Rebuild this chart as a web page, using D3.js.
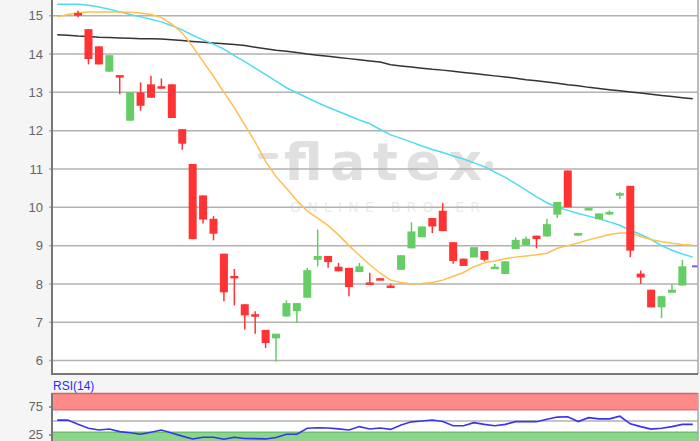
<!DOCTYPE html>
<meta charset="utf-8">
<script src="https://d3js.org/d3.v7.min.js"></script>
<style>
    body { margin: 0; background: #f5f5f5; }
    svg { display: block; font-family: "Liberation Sans", Arial, sans-serif; }
</style>
<body>
<div id="chart"></div>
<script>
    // daily candles (index 0 = first visible day)
    var opens  = [15.07, 14.65, 14.20, 13.54, 13.45, 12.26, 13.00, 13.21, 13.16, 13.21,
                  12.04, 11.13, 10.31, 9.70, 8.79, 8.21, 7.47, 7.21, 6.80, 6.58,
                  7.15, 7.29, 7.64, 8.63, 8.73, 8.45, 8.42, 8.31, 8.04, 8.15,
                  7.96, 8.37, 8.93, 9.22, 9.72, 9.91, 9.09, 8.66, 8.69, 8.86,
                  8.40, 8.26, 8.91, 9.01, 9.26, 9.24, 9.81, 10.96, 9.26, 9.96,
                  9.69, 9.81, 10.33, 10.56, 8.27, 7.85, 7.39, 7.77, 7.96]
    var closes = [15.00, 13.87, 13.73, 13.97, 13.40, 13.00, 12.65, 12.86, 13.10, 12.33,
                  11.66, 9.17, 9.68, 9.31, 7.78, 8.18, 7.18, 7.19, 6.46, 6.70,
                  7.50, 7.50, 8.36, 8.73, 8.57, 8.33, 7.92, 8.46, 8.02, 8.10,
                  7.90, 8.75, 9.37, 9.50, 9.50, 9.38, 8.60, 8.47, 8.96, 8.63,
                  8.45, 8.59, 9.15, 9.18, 9.17, 9.56, 10.14, 10.00, 9.33, 9.98,
                  9.84, 9.88, 10.37, 8.87, 8.17, 7.39, 7.68, 7.85, 8.46]
    var highs  = [15.13, 14.65, 14.20, 13.97, 13.45, 13.00, 13.26, 13.43, 13.36, 13.21,
                  12.04, 11.13, 10.31, 9.77, 8.79, 8.39, 7.47, 7.29, 6.80, 6.70,
                  7.57, 7.50, 8.42, 9.42, 8.73, 8.55, 8.42, 8.55, 8.29, 8.15,
                  8.00, 8.75, 9.61, 9.50, 9.72, 10.11, 9.09, 8.66, 8.96, 8.86,
                  8.52, 8.59, 9.21, 9.24, 9.26, 9.70, 10.14, 10.96, 9.33, 9.98,
                  9.84, 9.92, 10.39, 10.56, 8.35, 7.85, 7.68, 8.00, 8.63]
    var lows   = [14.96, 13.73, 13.73, 13.54, 12.95, 12.26, 12.52, 12.86, 13.10, 12.33,
                  11.50, 9.17, 9.58, 9.14, 7.55, 7.44, 6.81, 6.70, 6.33, 5.97,
                  7.15, 6.98, 7.64, 8.46, 8.42, 8.33, 7.68, 8.31, 8.02, 8.10,
                  7.90, 8.37, 8.93, 9.22, 9.33, 9.38, 8.53, 8.47, 8.69, 8.59,
                  8.40, 8.26, 8.91, 9.01, 8.93, 9.24, 9.72, 10.00, 9.26, 9.96,
                  9.69, 9.81, 10.22, 8.70, 8.00, 7.39, 7.11, 7.77, 7.96]

    // indicator series start two days before the first candle
    var seriesStart = -2
    var maSlow = [14.50, 14.49, 14.47, 14.46, 14.44, 14.43, 14.42, 14.41, 14.40, 14.40,
                  14.39, 14.37, 14.35, 14.33, 14.31, 14.29, 14.27, 14.25, 14.22, 14.18,
                  14.14, 14.10, 14.07, 14.04, 14.00, 13.97, 13.94, 13.91, 13.88, 13.85,
                  13.82, 13.79, 13.72, 13.69, 13.66, 13.63, 13.60, 13.58, 13.55, 13.52,
                  13.49, 13.46, 13.43, 13.40, 13.37, 13.33, 13.30, 13.27, 13.24, 13.20,
                  13.17, 13.13, 13.10, 13.07, 13.04, 13.01, 12.98, 12.95, 12.92, 12.89,
                  12.86, 12.83]
    var maMid  = [15.30, 15.30, 15.30, 15.27, 15.23, 15.17, 15.10, 15.03, 14.97, 14.91,
                  14.84, 14.74, 14.63, 14.49, 14.37, 14.26, 14.13, 13.96, 13.80, 13.63,
                  13.46, 13.29, 13.12, 12.99, 12.86, 12.73, 12.61, 12.50, 12.39, 12.28,
                  12.18, 12.03, 11.89, 11.80, 11.70, 11.60, 11.51, 11.43, 11.34, 11.26,
                  11.16, 11.06, 10.92, 10.78, 10.62, 10.45, 10.27, 10.12, 10.00, 9.92,
                  9.84, 9.77, 9.70, 9.62, 9.53, 9.40, 9.29, 9.16, 9.00, 8.88,
                  8.78, 8.70]
    var maFast = [14.97, 15.03, 15.08, 15.10, 15.10, 15.10, 15.10, 15.09, 15.07, 15.03,
                  14.95, 14.78, 14.55, 14.20, 13.80, 13.42, 13.00, 12.60, 12.15, 11.70,
                  11.20, 10.80, 10.50, 10.18, 9.90, 9.72, 9.52, 9.28, 9.00, 8.75,
                  8.50, 8.28, 8.10, 8.04, 8.00, 8.01, 8.04, 8.10, 8.20, 8.30,
                  8.45, 8.55, 8.60, 8.66, 8.70, 8.73, 8.76, 8.80, 8.93, 9.00,
                  9.07, 9.15, 9.22, 9.29, 9.33, 9.33, 9.24, 9.16, 9.10, 9.06,
                  9.03, 9.01]
    var rsi    = [51.6, 51.6, 44.0, 37.0, 34.0, 35.7, 31.0, 29.0, 26.3, 30.0,
                  34.0, 28.5, 23.0, 18.0, 21.0, 21.0, 17.5, 21.0, 18.8, 18.5,
                  18.0, 20.5, 26.3, 26.3, 37.0, 38.0, 37.5, 36.0, 34.0, 40.0,
                  35.7, 37.5, 35.0, 43.0, 48.5, 50.0, 51.8, 49.0, 41.6, 41.6,
                  47.0, 44.0, 41.6, 44.0, 48.8, 48.8, 48.8, 53.0, 57.0, 57.7,
                  49.0, 56.0, 53.8, 53.8, 58.5, 45.0, 40.0, 35.5, 37.0, 40.0,
                  44.0, 44.0]

    var priceTicks = [6, 7, 8, 9, 10, 11, 12, 13, 14, 15]
    var rsiTicks = [25, 75]
    var rsiLevels = [30, 50, 70]
    var rsiLabel = "RSI(14)"

    var width = 700
    var height = 441
    var left = 52, right = 698

    var candles = opens.map(function (o, i) {
        return { i: i, open: o, close: closes[i], high: highs[i], low: lows[i] }
    })
    var series = function (arr) {
        return arr.map(function (v, k) { return { i: k + seriesStart, v: v } })
    }

    var svg = d3.select("#chart").append("svg")
        .attr("width", width)
        .attr("height", height)

    svg.append("rect").attr("width", width).attr("height", height).attr("fill", "#f5f5f5")

    var x = d3.scaleLinear().domain([-2.5, 59.5]).range([left, right])
    var y = d3.scaleLinear().domain([5.65, 15.41]).range([374, 0])
    var yr = d3.scaleLinear().domain([0, 100]).range([449, 393])

    // ---- price panel
    svg.append("rect")
        .attr("x", left).attr("y", 0)
        .attr("width", right - left).attr("height", 374)
        .attr("fill", "#fff")

    // watermark
    var wm = svg.append("g").attr("fill", "#e0e0e0")
    wm.append("rect").attr("x", 258).attr("y", 153).attr("width", 20).attr("height", 6).attr("rx", 3)
    wm.append("text")
        .attr("x", 284).attr("y", 180)
        .attr("textLength", 198).attr("lengthAdjust", "spacing")
        .style("font-family", "DejaVu Sans").style("font-size", "52px").style("font-weight", "bold")
        .text("flatex")
    wm.append("circle").attr("cx", 489).attr("cy", 165).attr("r", 4)
    wm.append("text")
        .attr("x", 290).attr("y", 212)
        .attr("textLength", 190).attr("lengthAdjust", "spacing")
        .attr("fill", "#ebebeb")
        .style("font-family", "DejaVu Sans").style("font-size", "14px")
        .text("ONLINE BROKER")

    // grid and y labels
    svg.append("g").selectAll("line")
        .data(priceTicks).enter().append("line")
        .attr("x1", left - 3).attr("x2", right)
        .attr("y1", function (d) { return y(d) }).attr("y2", function (d) { return y(d) })
        .attr("stroke", "#b2b2b2").attr("stroke-width", 1.5)
    svg.append("g").selectAll("text")
        .data(priceTicks).enter().append("text")
        .attr("x", 43).attr("y", function (d) { return y(d) })
        .attr("dy", "0.36em").attr("text-anchor", "end")
        .attr("fill", "#666").style("font-size", "13px")
        .text(function (d) { return d })

    // moving averages
    var line = d3.line().x(function (d) { return x(d.i) }).y(function (d) { return y(d.v) })
    var mas = [[maSlow, "#333"], [maMid, "#4fdcf0"], [maFast, "#ffc04d"]]
    mas.forEach(function (m) {
        svg.append("path")
            .datum(series(m[0]))
            .attr("d", line)
            .attr("fill", "none")
            .attr("stroke", m[1])
            .attr("stroke-width", 1.5)
    })

    // candles
    var color = function (d) { return d.close >= d.open ? "#66cc66" : "#ff3333" }
    var cg = svg.append("g")
    cg.selectAll("line")
        .data(candles).enter().append("line")
        .attr("x1", function (d) { return x(d.i) }).attr("x2", function (d) { return x(d.i) })
        .attr("y1", function (d) { return y(d.high) }).attr("y2", function (d) { return y(d.low) })
        .attr("stroke", color).attr("stroke-width", 1.5)
    cg.selectAll("rect")
        .data(candles).enter().append("rect")
        .attr("x", function (d) { return x(d.i) - 4 })
        .attr("width", 8)
        .attr("y", function (d) { return y(Math.max(d.open, d.close)) })
        .attr("height", function (d) { return Math.max(2.5, Math.abs(y(d.open) - y(d.close))) })
        .attr("fill", color)

    // last price marker
    svg.append("line")
        .attr("x1", 692).attr("x2", right)
        .attr("y1", y(closes[closes.length - 1])).attr("y2", y(closes[closes.length - 1]))
        .attr("stroke", "#7a5ce0").attr("stroke-width", 2)

    // frame
    svg.append("line").attr("x1", right).attr("x2", right).attr("y1", 0).attr("y2", 374)
        .attr("stroke", "#aaa").attr("stroke-width", 1.5)
    svg.append("line").attr("x1", left).attr("x2", right).attr("y1", 374).attr("y2", 374)
        .attr("stroke", "#777").attr("stroke-width", 2)
    svg.append("line").attr("x1", left).attr("x2", left).attr("y1", 0).attr("y2", 375)
        .attr("stroke", "#777").attr("stroke-width", 2)

    // ---- RSI panel
    svg.append("text")
        .attr("x", 53).attr("y", 390)
        .attr("fill", "#2b2bff").style("font-size", "12px")
        .text(rsiLabel)
    svg.append("rect")
        .attr("x", left).attr("y", yr(100))
        .attr("width", right - left).attr("height", height - yr(100))
        .attr("fill", "#fff")
    svg.append("rect")
        .attr("x", left).attr("y", yr(100))
        .attr("width", right - left).attr("height", yr(rsiLevels[2]) - yr(100))
        .attr("fill", "#ff8a8a")
    svg.append("rect")
        .attr("x", left).attr("y", yr(rsiLevels[0]))
        .attr("width", right - left).attr("height", yr(0) - yr(rsiLevels[0]))
        .attr("fill", "#8ad68a")
    svg.append("line").attr("x1", left).attr("x2", right)
        .attr("y1", yr(100) + 0.5).attr("y2", yr(100) + 0.5)
        .attr("stroke", "#c86a6a").attr("stroke-width", 1.5)
    svg.append("line").attr("x1", left).attr("x2", right)
        .attr("y1", yr(rsiLevels[2])).attr("y2", yr(rsiLevels[2]))
        .attr("stroke", "#e87474").attr("stroke-width", 1.5)
    svg.append("line").attr("x1", left).attr("x2", right)
        .attr("y1", yr(rsiLevels[0])).attr("y2", yr(rsiLevels[0]))
        .attr("stroke", "#6cc06c").attr("stroke-width", 1.5)
    svg.append("line").attr("x1", left).attr("x2", right)
        .attr("y1", yr(rsiLevels[1])).attr("y2", yr(rsiLevels[1]))
        .attr("stroke", "#b2b2b2").attr("stroke-width", 1.5)

    svg.append("g").selectAll("line")
        .data(rsiTicks).enter().append("line")
        .attr("x1", left - 3).attr("x2", left)
        .attr("y1", function (d) { return yr(d) }).attr("y2", function (d) { return yr(d) })
        .attr("stroke", "#777").attr("stroke-width", 1.5)
    svg.append("g").selectAll("text")
        .data(rsiTicks).enter().append("text")
        .attr("x", 43).attr("y", function (d) { return yr(d) })
        .attr("dy", "0.33em").attr("text-anchor", "end")
        .attr("fill", "#666").style("font-size", "13px")
        .text(function (d) { return d })

    var rline = d3.line().x(function (d) { return x(d.i) }).y(function (d) { return yr(d.v) })
    svg.append("path")
        .datum(series(rsi))
        .attr("d", rline)
        .attr("fill", "none")
        .attr("stroke", "#3535f0")
        .attr("stroke-width", 1.6)

    svg.append("line").attr("x1", right).attr("x2", right).attr("y1", yr(100)).attr("y2", height)
        .attr("stroke", "#aaa").attr("stroke-width", 1.5)
    svg.append("line").attr("x1", left).attr("x2", left).attr("y1", yr(100)).attr("y2", height)
        .attr("stroke", "#777").attr("stroke-width", 2)
</script>
</body>
